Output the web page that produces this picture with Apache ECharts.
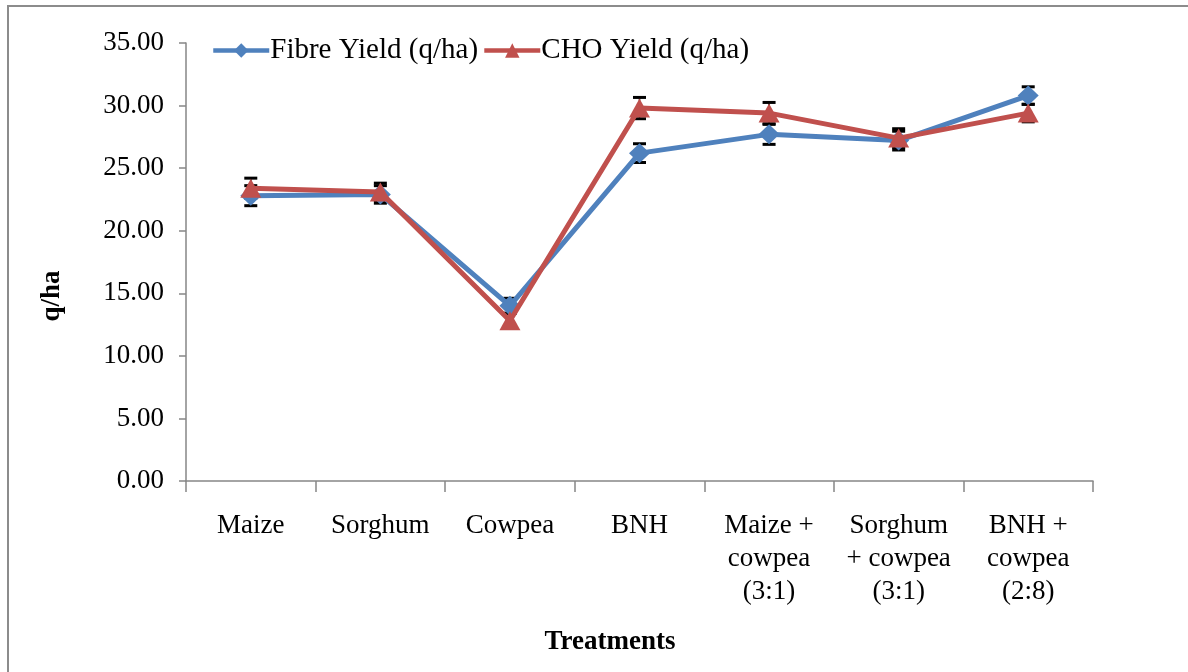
<!DOCTYPE html>
<html>
<head>
<meta charset="utf-8">
<script src="https://cdn.jsdelivr.net/npm/echarts@6/dist/echarts.min.js"></script>
<style>
html,body{margin:0;padding:0;background:#fff;}
#chart{width:1188px;height:672px;}
</style>
</head>
<body>
<div id="chart"></div>
<script>
var categories = ["Maize", "Sorghum", "Cowpea", "BNH", "Maize +\ncowpea\n(3:1)", "Sorghum\n+ cowpea\n(3:1)", "BNH +\ncowpea\n(2:8)"];
var fibreYield = [22.8, 22.9, 14.0, 26.2, 27.7, 27.2, 30.8];
var choYield = [23.4, 23.1, 12.8, 29.8, 29.4, 27.4, 29.4];
var fibreErr = [0.8, 0.7, 0.6, 0.75, 0.8, 0.75, 0.7];
var choErr = [0.8, 0.7, 0.6, 0.85, 0.85, 0.75, 0.7];
var yTicks = {min: 0, max: 35, interval: 5};

var font = "'Liberation Serif', 'Times New Roman', serif";
var chart = echarts.init(document.getElementById('chart'));

function errData(vals, errs) {
  return vals.map(function (v, i) { return [i, v - errs[i], v + errs[i]]; });
}
function renderErr(params, api) {
  var x = api.value(0);
  var lo = api.coord([x, api.value(1)]);
  var hi = api.coord([x, api.value(2)]);
  var w = 6.5;
  var st = {stroke: '#000', lineWidth: 3};
  return {
    type: 'group',
    children: [
      {type: 'line', shape: {x1: lo[0], y1: lo[1], x2: hi[0], y2: hi[1]}, style: {stroke: '#000', lineWidth: 1.5}},
      {type: 'line', shape: {x1: lo[0] - w, y1: lo[1], x2: lo[0] + w, y2: lo[1]}, style: st},
      {type: 'line', shape: {x1: hi[0] - w, y1: hi[1], x2: hi[0] + w, y2: hi[1]}, style: st}
    ]
  };
}

chart.setOption({
  backgroundColor: '#fff',
  animation: false,
  textStyle: {fontFamily: font, color: '#000'},
  graphic: [
    {
      type: 'rect', shape: {x: 8, y: 6, width: 1200, height: 700},
      style: {fill: 'none', stroke: '#8c8c8c', lineWidth: 2}, silent: true, z: -1
    },
    {
      type: 'text', x: 52, y: 296, rotation: Math.PI / 2,
      style: {text: 'q/ha', font: "bold 27px 'Liberation Serif', serif", fill: '#000', align: 'center', verticalAlign: 'middle'}
    },
    {
      type: 'text', x: 610, y: 642,
      style: {text: 'Treatments', font: "bold 27px 'Liberation Serif', serif", fill: '#000', align: 'center', verticalAlign: 'middle'}
    }
  ],
  legend: {
    left: 206, top: 31,
    itemWidth: 56, itemHeight: 18, itemGap: 4,
    lineStyle: {width: 4.5},
    textStyle: {fontFamily: font, fontSize: 29, color: '#000', padding: [0, 0, 0, -4]},
    data: ['Fibre Yield (q/ha)', 'CHO Yield (q/ha)']
  },
  grid: {left: 186, right: 95, top: 43, bottom: 191},
  xAxis: {
    type: 'category', data: categories,
    axisLine: {lineStyle: {color: '#868686', width: 1.5}},
    axisTick: {show: true, length: 11, lineStyle: {color: '#868686', width: 1.5}},
    axisLabel: {interval: 0, margin: 28, fontFamily: font, fontSize: 27, color: '#000', lineHeight: 33, align: 'center'},
    splitLine: {show: false}
  },
  yAxis: {
    type: 'value', min: yTicks.min, max: yTicks.max, interval: yTicks.interval,
    axisLine: {show: true, lineStyle: {color: '#868686', width: 1.5}},
    axisTick: {show: true, length: 7, lineStyle: {color: '#868686', width: 1.5}},
    axisLabel: {margin: 22, fontFamily: font, fontSize: 27, color: '#000',
      formatter: function (v) { return v.toFixed(2); }},
    splitLine: {show: false}
  },
  series: [
    {
      name: 'Fibre Yield (q/ha)', type: 'line', data: fibreYield,
      symbol: 'diamond', symbolSize: [21, 20],
      itemStyle: {color: '#4F81BD'},
      lineStyle: {color: '#4F81BD', width: 5},
      z: 2
    },
    {
      name: 'CHO Yield (q/ha)', type: 'line', data: choYield,
      symbol: 'triangle', symbolSize: [21, 19],
      itemStyle: {color: '#C0504D'},
      lineStyle: {color: '#C0504D', width: 5},
      z: 3
    },
    {
      name: 'fibreErr', type: 'custom', data: errData(fibreYield, fibreErr),
      renderItem: renderErr, encode: {x: 0, y: [1, 2]}, z: 1, silent: true
    },
    {
      name: 'choErr', type: 'custom', data: errData(choYield, choErr),
      renderItem: renderErr, encode: {x: 0, y: [1, 2]}, z: 1, silent: true
    }
  ]
});
</script>
</body>
</html>
